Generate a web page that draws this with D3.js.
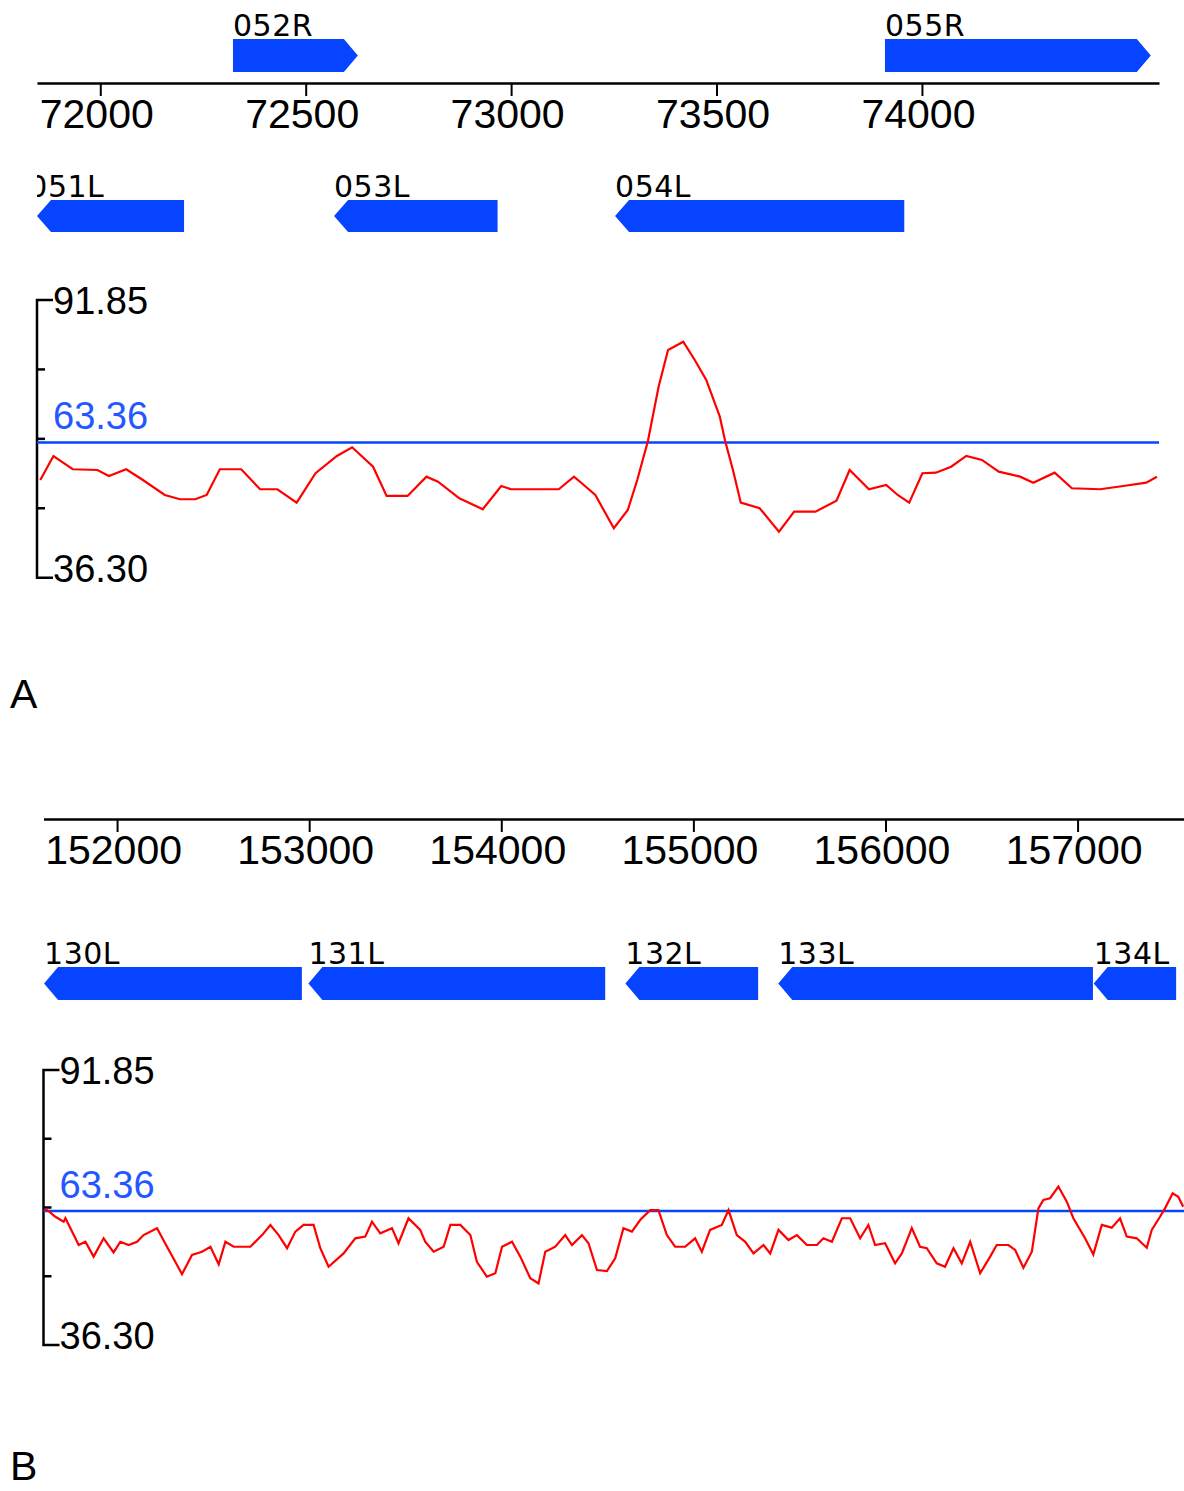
<!DOCTYPE html>
<html>
<head>
<meta charset="utf-8">
<script src="https://cdn.jsdelivr.net/npm/d3@7/dist/d3.min.js"></script>
<style>
  html, body { margin: 0; padding: 0; background: #fff; }
  svg { display: block; }
</style>
</head>
<body>
<svg id="chart" width="1184" height="1491"></svg>
<script>
// ---- Data -------------------------------------------------------------
// GC-content window range and genome-average threshold
const gcMin = 36.30;
const gcMax = 91.85;
const gcThreshold = 63.36;

// Panel A: genomic window 71846 - 74577
const ticksA = [72000, 72500, 73000, 73500, 74000];
const genesAName = ["051L", "052R", "053L", "054L", "055R"];
const genesAStart = [71825, 72323, 72569, 73253, 73910];
const genesAEnd = [72204, 72627, 72967, 73957, 74557];
const genesAStrand = ["-", "+", "-", "-", "+"];
const gcAPos = [71854, 71886, 71933, 71993, 72021, 72063, 72101, 72157, 72194, 72231,
  72259, 72291, 72343, 72389, 72431, 72478, 72524, 72576, 72613, 72664,
  72697, 72748, 72794, 72822, 72874, 72931, 72976, 73000, 73116, 73153,
  73172, 73205, 73250, 73284, 73307, 73333, 73359, 73382, 73419, 73447,
  73475, 73508, 73521, 73540, 73559, 73605, 73652, 73689, 73741, 73792,
  73824, 73871, 73913, 73941, 73969, 74001, 74034, 74071, 74108, 74146,
  74187, 74239, 74271, 74323, 74365, 74434, 74490, 74546, 74572];
const gcAVal = [55.85, 60.65, 57.99, 57.85, 56.65, 57.99, 55.99, 52.85, 51.99, 51.99,
  52.85, 57.99, 57.99, 53.99, 53.99, 51.31, 57.19, 60.65, 62.39, 58.51,
  52.65, 52.65, 56.51, 55.51, 52.19, 49.99, 54.65, 53.99, 53.99, 56.51,
  55.19, 52.85, 46.19, 49.85, 55.85, 63.65, 74.51, 81.85, 83.51, 79.85,
  75.85, 68.51, 63.65, 57.85, 51.31, 50.19, 45.51, 49.51, 49.51, 51.71,
  57.85, 53.99, 54.85, 52.85, 51.31, 57.19, 57.31, 58.51, 60.65, 59.85,
  57.51, 56.51, 55.31, 57.31, 54.19, 53.99, 54.65, 55.31, 56.51];

// Panel B: genomic window 151617 - 157554
const ticksB = [152000, 153000, 154000, 155000, 156000, 157000];
const genesBName = ["130L", "131L", "132L", "133L", "134L"];
const genesBStart = [151620, 152996, 154646, 155442, 157084];
const genesBEnd = [152962, 154541, 155337, 157080, 157513];
const genesBStrand = ["-", "-", "-", "-", "-"];
const gcBPos = [151622, 151636, 151679, 151722, 151731, 151783, 151800, 151835, 151878, 151930,
  151982, 152017, 152060, 152104, 152138, 152208, 152260, 152303, 152338, 152390,
  152442, 152486, 152529, 152564, 152607, 152694, 152755, 152798, 152841, 152885,
  152928, 152971, 153023, 153058, 153101, 153179, 153240, 153292, 153327, 153370,
  153431, 153465, 153517, 153578, 153604, 153648, 153700, 153735, 153787, 153839,
  153873, 153925, 153969, 154004, 154056, 154099, 154151, 154194, 154229, 154281,
  154333, 154368, 154420, 154454, 154498, 154550, 154593, 154636, 154680, 154723,
  154775, 154818, 154862, 154905, 154957, 155009, 155044, 155087, 155148, 155183,
  155226, 155270, 155313, 155365, 155400, 155443, 155495, 155539, 155591, 155643,
  155677, 155721, 155773, 155816, 155868, 155911, 155946, 155998, 156050, 156085,
  156137, 156180, 156215, 156267, 156310, 156354, 156397, 156441, 156493, 156545,
  156579, 156640, 156675, 156718, 156762, 156796, 156822, 156857, 156900, 156944,
  156978, 157039, 157082, 157126, 157178, 157221, 157256, 157308, 157360, 157386,
  157429, 157455, 157495, 157524, 157550];
const gcBVal = [63.7, 63.57, 62.2, 61.2, 61.9, 57.85, 56.5, 57.15, 54.15, 57.85,
  55.0, 57.15, 56.5, 57.15, 58.5, 59.9, 56.15, 53.1, 50.6, 54.5,
  55.15, 56.15, 52.6, 57.15, 56.15, 56.15, 58.5, 60.55, 58.5, 55.85,
  59.2, 60.55, 60.55, 55.85, 52.1, 54.8, 57.85, 58.2, 61.2, 58.85,
  59.9, 56.85, 61.9, 59.55, 57.15, 55.15, 56.15, 60.55, 60.55, 58.5,
  53.1, 50.1, 50.8, 56.15, 57.15, 54.15, 49.8, 48.75, 55.15, 56.15,
  58.5, 56.5, 58.5, 56.85, 51.45, 51.25, 53.8, 59.9, 59.2, 61.55,
  63.55, 63.55, 58.5, 56.15, 56.15, 57.85, 55.15, 59.55, 60.55, 63.55,
  58.5, 57.15, 54.8, 56.5, 54.8, 59.55, 57.5, 58.5, 56.5, 56.5,
  57.85, 57.15, 61.9, 61.9, 57.85, 60.55, 56.5, 56.85, 52.8, 54.8,
  59.9, 56.15, 55.85, 52.8, 52.1, 55.85, 52.8, 57.15, 50.8, 54.15,
  56.5, 56.5, 55.5, 51.9, 55.15, 63.9, 65.6, 65.95, 68.3, 65.25,
  61.9, 57.85, 54.6, 60.55, 60.0, 61.9, 58.2, 57.85, 55.95, 59.55,
  62.2, 63.9, 66.95, 66.25, 64.25];

// ---- Drawing ------------------------------------------------------------
const svg = d3.select("#chart");
const BLUE = "#0744ff";
const RED = "#ff0000";
const AXIS_FONT = "'Liberation Sans', Arial, sans-serif";
const GENE_FONT = "'DejaVu Sans', Verdana, sans-serif";
const TIP = 14;

function drawPanel(cfg) {
  const g = svg.append("g");
  const x = d3.scaleLinear().domain(cfg.domain).range([cfg.left, cfg.right]);
  const y = d3.scaleLinear().domain([gcMin, gcMax]).range([cfg.plotBottom, cfg.plotTop]);

  const clipId = "clip-" + cfg.id;
  svg.append("clipPath").attr("id", clipId)
    .append("rect")
    .attr("x", cfg.left).attr("y", 0)
    .attr("width", cfg.right - cfg.left).attr("height", 1491);

  // genomic coordinate axis
  const axis = d3.axisBottom(x)
    .tickValues(cfg.ticks)
    .tickFormat(d3.format("d"))
    .tickSize(13)
    .tickSizeOuter(0)
    .tickPadding(6);
  const ax = g.append("g")
    .attr("transform", `translate(0,${cfg.axisY})`)
    .call(axis);
  ax.select(".domain").attr("stroke", "#000").attr("stroke-width", 2.5);
  ax.selectAll(".tick line").attr("stroke", "#000").attr("stroke-width", 2);
  ax.selectAll(".tick text")
    .attr("font-family", AXIS_FONT)
    .attr("font-size", 41)
    .attr("fill", "#000")
    .attr("dx", -4)
    .attr("dy", "0.72em")
    .attr("y", 15);

  // genes
  const genes = cfg.names.map((n, i) => ({
    name: n, start: cfg.starts[i], end: cfg.ends[i], strand: cfg.strands[i]
  }));
  const gg = g.append("g").attr("clip-path", `url(#${clipId})`);
  genes.forEach(d => {
    const row = d.strand === "+" ? cfg.fwdRow : cfg.revRow;
    const x0 = Math.max(x(d.start), cfg.left);
    const x1 = Math.min(x(d.end), cfg.right + 20);
    const top = row.top, bot = row.top + row.h, mid = row.top + row.h / 2;
    let pts;
    if (d.strand === "+") {
      pts = [[x0, top], [x1 - TIP, top], [x1, mid], [x1 - TIP, bot], [x0, bot]];
    } else {
      pts = [[x1, top], [x0 + TIP, top], [x0, mid], [x0 + TIP, bot], [x1, bot]];
    }
    gg.append("polygon")
      .attr("points", pts.map(p => p.join(",")).join(" "))
      .attr("fill", BLUE);
    gg.append("text")
      .attr("x", x(d.start))
      .attr("y", top - 3.5)
      .attr("font-family", GENE_FONT)
      .attr("font-size", 30)
      .attr("letter-spacing", 0.5)
      .attr("fill", "#000")
      .text(d.name);
  });

  // GC-content y axis (bracket with quarter ticks)
  const yAx = g.append("g");
  yAx.append("path")
    .attr("d", `M${cfg.left + 16},${y(gcMax)}H${cfg.left}V${y(gcMin)}H${cfg.left + 16}`)
    .attr("fill", "none").attr("stroke", "#000").attr("stroke-width", 2.5);
  const quarters = d3.range(1, 4).map(k => gcMin + (gcMax - gcMin) * k / 4);
  yAx.selectAll("line.q").data(quarters).join("line")
    .attr("x1", cfg.left).attr("x2", cfg.left + 8)
    .attr("y1", d => y(d)).attr("y2", d => y(d))
    .attr("stroke", "#000").attr("stroke-width", 2.5);
  yAx.append("text")
    .attr("x", cfg.left + 16).attr("y", y(gcMax) + 14)
    .attr("font-family", AXIS_FONT).attr("font-size", 38).attr("fill", "#000")
    .text(d3.format(".2f")(gcMax));
  yAx.append("text")
    .attr("x", cfg.left + 16).attr("y", y(gcMin) + 4)
    .attr("font-family", AXIS_FONT).attr("font-size", 38).attr("fill", "#000")
    .text(d3.format(".2f")(gcMin));

  // threshold line
  g.append("line")
    .attr("x1", cfg.left).attr("x2", cfg.right)
    .attr("y1", y(gcThreshold)).attr("y2", y(gcThreshold))
    .attr("stroke", BLUE).attr("stroke-width", 2.5);
  g.append("text")
    .attr("x", cfg.left + 16).attr("y", y(gcThreshold) - 13)
    .attr("font-family", AXIS_FONT).attr("font-size", 38).attr("fill", "#2457ff")
    .text(d3.format(".2f")(gcThreshold));

  // GC-content profile
  const pts = cfg.gcPos.map((p, i) => [p, cfg.gcVal[i]]);
  g.append("path")
    .datum(pts)
    .attr("clip-path", `url(#${clipId})`)
    .attr("d", d3.line().x(d => x(d[0])).y(d => y(d[1])))
    .attr("fill", "none")
    .attr("stroke", RED)
    .attr("stroke-width", 2.2)
    .attr("stroke-linejoin", "miter");

  // panel letter
  svg.append("text")
    .attr("x", 10).attr("y", cfg.letterY)
    .attr("font-family", AXIS_FONT).attr("font-size", 41).attr("fill", "#000")
    .text(cfg.letter);
}

drawPanel({
  id: "a", letter: "A", letterY: 708,
  domain: [71846, 74577], left: 37, right: 1159,
  ticks: ticksA, axisY: 83,
  names: genesAName, starts: genesAStart, ends: genesAEnd, strands: genesAStrand,
  fwdRow: { top: 39, h: 33 }, revRow: { top: 200, h: 32 },
  plotTop: 300, plotBottom: 577.7,
  gcPos: gcAPos, gcVal: gcAVal
});

drawPanel({
  id: "b", letter: "B", letterY: 1480,
  domain: [151617, 157554], left: 43.5, right: 1184,
  ticks: ticksB, axisY: 819,
  names: genesBName, starts: genesBStart, ends: genesBEnd, strands: genesBStrand,
  fwdRow: { top: 900, h: 33 }, revRow: { top: 967, h: 33 },
  plotTop: 1070, plotBottom: 1345,
  gcPos: gcBPos, gcVal: gcBVal
});
</script>
</body>
</html>
